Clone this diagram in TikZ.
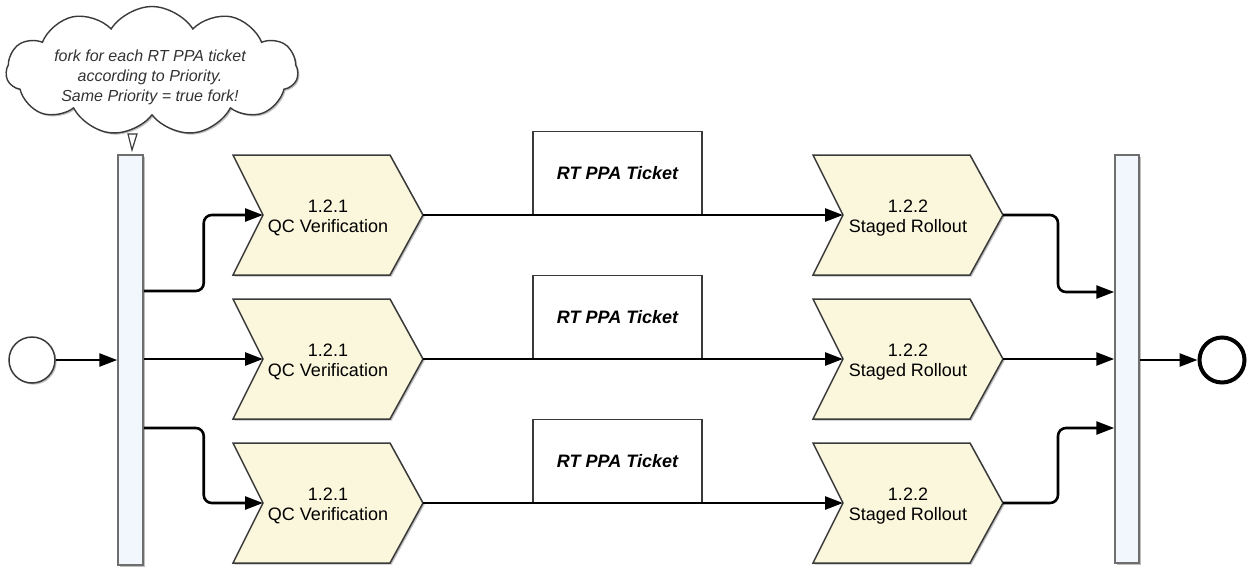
\documentclass[tikz,border=0pt]{standalone}
\usepackage{fontspec}
\setmainfont{Liberation Sans}
\usetikzlibrary{shapes.symbols,arrows.meta,calc,shadows}
\definecolor{chevfill}{HTML}{FBF7DC}
\definecolor{chevline}{HTML}{3A3A3A}
\definecolor{barfill}{HTML}{F1F7FD}
\definecolor{barline}{HTML}{6E6E6E}
\definecolor{notecol}{HTML}{333333}
\newcommand\mychev[4]{%
  \draw[chevshape] (#2,#3-60) -- ++(157,0) -- ++(33,60) -- ++(-33,60) -- ++(-157,0) -- ++(30,-60) -- cycle;
  \coordinate (#1n) at (#2+30,#3);
  \coordinate (#1t) at (#2+190,#3);
  \node[chevtext] (#1) at (#2+95,#3+3) {#4};
}
\begin{document}
\begin{tikzpicture}[x=0.5pt,y=-0.5pt,
  softshadow/.style={drop shadow={shadow xshift=0.8pt,shadow yshift=-0.8pt,opacity=0.25,fill=black}},
  flow/.style={line width=1.3pt,-{Triangle[length=9pt,width=6.5pt]},rounded corners=4pt},
  chevshape/.style={fill=chevfill,draw=chevline,line width=0.75pt,line join=miter,softshadow},
  chevtext/.style={font=\fontsize{9}{10}\selectfont,align=center,inner sep=0pt},
  bar/.style={draw=barline,fill=barfill,line width=0.75pt,inner sep=0pt,softshadow},
  ticket/.style={draw=chevline,fill=white,line width=0.7pt,minimum width=84.5pt,minimum height=41.5pt,inner sep=0pt,font=\fontsize{9}{10}\selectfont\bfseries\itshape},
]
\useasboundingbox (0,0) rectangle (1254,569);

% cloud callout
\node[cloud,cloud puffs=11,cloud puff arc=115,cloud ignores aspect,draw=chevline,fill=white,line width=0.7pt,minimum width=146pt,minimum height=64.5pt,softshadow] (note) at (152,71) {};
\draw[draw=chevline,fill=white,line width=0.6pt] (128,134) -- (137,134) -- (132,150) -- cycle;
\node[font=\fontsize{8}{10}\selectfont\itshape,text=notecol,align=center,inner sep=0pt] (notetext) at (150,77) {fork for each RT PPA ticket\\according to Priority.\\Same Priority = true fork!};

% bars
\node[bar,minimum width=12.5pt,minimum height=205pt] (lbar) at (130.5,360) {};
\node[bar,minimum width=12pt,minimum height=204pt] (rbar) at (1127,359) {};

% start / end
\node[circle,draw=chevline,fill=white,line width=0.75pt,minimum size=23pt,inner sep=0pt,softshadow] (start) at (32,360) {};
\node[circle,draw=black,fill=white,line width=2pt,minimum size=22.5pt,inner sep=0pt,softshadow] (end) at (1222,360) {};

% chevrons
\mychev{q1}{233}{215}{1.2.1\\QC Verification}
\mychev{q2}{233}{359}{1.2.1\\QC Verification}
\mychev{q3}{233}{503}{1.2.1\\QC Verification}
\mychev{s1}{813}{215}{1.2.2\\Staged Rollout}
\mychev{s2}{813}{359}{1.2.2\\Staged Rollout}
\mychev{s3}{813}{503}{1.2.2\\Staged Rollout}

% tickets
\node[ticket,anchor=south] (t1) at (617.5,215) {RT PPA Ticket};
\node[ticket,anchor=south] (t2) at (617.5,359) {RT PPA Ticket};
\node[ticket,anchor=south] (t3) at (617.5,503) {RT PPA Ticket};

% connectors
\draw[flow] (start.east) -- (lbar.west |- start.east);
\draw[flow] ($(lbar.east)+(0,-69)$) -- ++(60,0) |- (q1n);
\draw[flow] (lbar.east |- q2n) -- (q2n);
\draw[flow] ($(lbar.east)+(0,68)$) -- ++(60,0) |- (q3n);

\draw[flow] (q1t) -- (s1n);
\draw[flow] (q2t) -- (s2n);
\draw[flow] (q3t) -- (s3n);

\draw[flow] (s1t) -- ++(55,0) |- ($(rbar.west)+(0,-67)$);
\draw[flow] (s2t) -- (s2t -| rbar.west);
\draw[flow] (s3t) -- ++(55,0) |- ($(rbar.west)+(0,69)$);

\draw[flow] (rbar.east |- end.west) -- (end.west);
\end{tikzpicture}
\end{document}
